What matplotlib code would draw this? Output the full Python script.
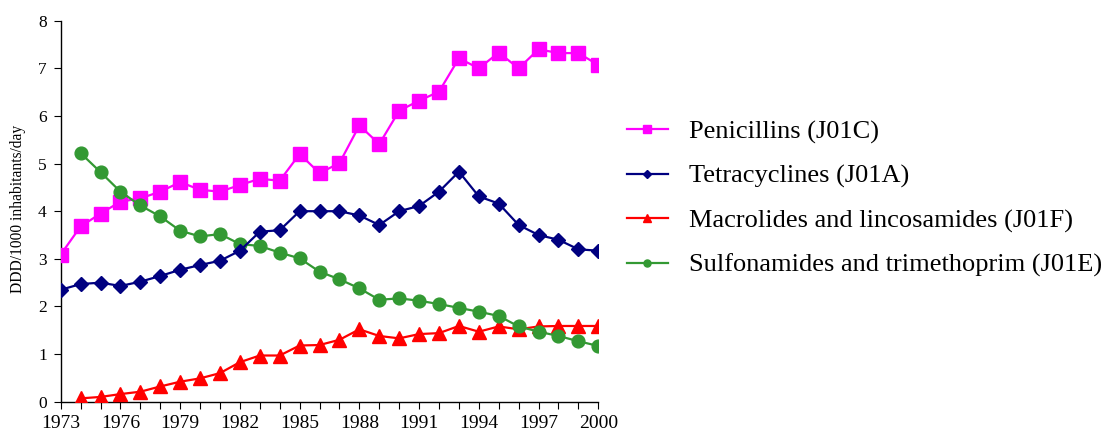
import matplotlib
matplotlib.use("Agg")
import matplotlib.pyplot as plt
import numpy as np

years = list(range(1973, 2001))

penicillins = [3.09, 3.68, 3.95, 4.20, 4.27, 4.41, 4.61, 4.45, 4.41, 4.55, 4.68, 4.64,
               5.20, 4.80, 5.01, 5.80, 5.41, 6.11, 6.32, 6.51, 7.21, 7.00, 7.33, 7.00,
               7.40, 7.32, 7.32, 7.07]
tetracyclines = [2.35, 2.47, 2.50, 2.43, 2.52, 2.64, 2.77, 2.87, 2.96, 3.17, 3.57, 3.60,
                 4.00, 4.00, 4.00, 3.91, 3.71, 4.00, 4.11, 4.41, 4.83, 4.31, 4.16, 3.71,
                 3.50, 3.40, 3.20, 3.17]
macrolides = [None, 0.07, 0.10, 0.16, 0.21, 0.32, 0.42, 0.49, 0.60, 0.83, 0.97, 0.97,
              1.18, 1.19, 1.30, 1.52, 1.38, 1.33, 1.42, 1.44, 1.59, 1.47, 1.58, 1.52,
              1.58, 1.59, 1.59, 1.59]
sulfonamides = [None, 5.22, 4.82, 4.41, 4.12, 3.89, 3.59, 3.47, 3.52, 3.31, 3.27, 3.13,
                3.01, 2.73, 2.57, 2.38, 2.14, 2.17, 2.12, 2.05, 1.97, 1.89, 1.80, 1.58,
                1.47, 1.38, 1.27, 1.17]

labels = ["Penicillins (J01C)", "Tetracyclines (J01A)",
          "Macrolides and lincosamides (J01F)", "Sulfonamides and trimethoprim (J01E)"]
xtick_labels = [1973, 1976, 1979, 1982, 1985, 1988, 1991, 1994, 1997, 2000]
ylabel = "DDD/1000 inhabitants/day"

def arr(v):
    return np.array([np.nan if x is None else x for x in v], dtype=float)

plt.rcParams['font.family'] = ['Liberation Serif', 'DejaVu Serif']

fig = plt.figure(figsize=(11.08, 4.30), dpi=100)
W, H = 1108, 430
ax = fig.add_axes([60.7 / W, (H - 401.7) / H, (598.3 - 60.7) / W, (401.7 - 20.7) / H])

x = np.array(years)
h_pen, = ax.plot(x, arr(penicillins), color='#FF00FF', lw=1.6, marker='s', ms=9.4,
                 mec='#FF00FF', label=labels[0], zorder=3)
h_mac, = ax.plot(x, arr(macrolides), color='#FF0000', lw=1.6, marker='^', ms=9.6,
                 mec='#FF0000', label=labels[2], zorder=3)
h_sul, = ax.plot(x, arr(sulfonamides), color='#339933', lw=1.6, marker='o', ms=9.2,
                 mec='#339933', label=labels[3], zorder=4)
h_tet, = ax.plot(x, arr(tetracyclines), color='#000080', lw=1.6, marker='D', ms=7,
                 mec='#000080', label=labels[1], zorder=5)

ax.set_xlim(1973, 2000)
ax.set_ylim(0, 8)
ax.set_xticks(years, minor=True)
ax.set_xticks(xtick_labels)
ax.set_xticklabels([str(v) for v in xtick_labels], fontsize=14)
ax.set_yticks(range(0, 9))
ax.tick_params(axis='y', labelsize=12.5, length=5, width=0.8, direction='out', pad=5)
ax.tick_params(axis='x', which='both', length=5, width=0.8, direction='out', pad=4.5)
for s in ['top', 'right']:
    ax.spines[s].set_visible(False)
for s in ['left', 'bottom']:
    ax.spines[s].set_linewidth(1.0)
fig.text(18 / W, (H - 209) / H, ylabel, rotation=90, ha='center', va='center', fontsize=11.2)

leg = fig.legend(handles=[h_pen, h_tet, h_mac, h_sul], labels=labels,
                 loc='upper left', bbox_to_anchor=(627 / W, 1 - 120 / H),
                 frameon=False, fontsize=19, handlelength=1.55, handletextpad=0.8,
                 labelspacing=0.78, borderpad=0, borderaxespad=0, markerscale=0.55)

fig.savefig("out.png", dpi=100)
